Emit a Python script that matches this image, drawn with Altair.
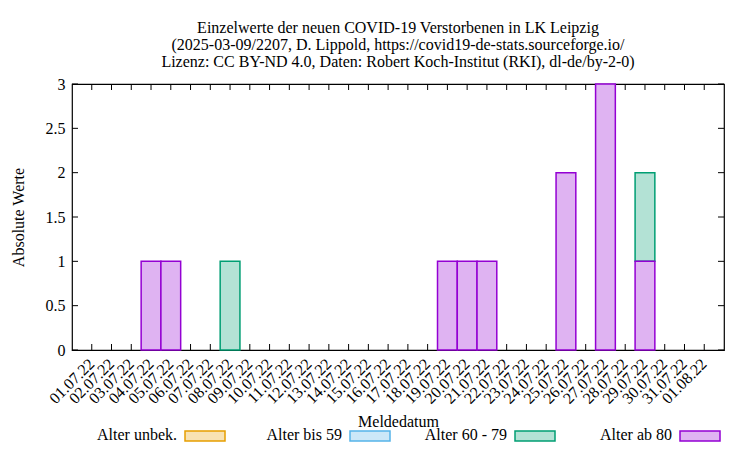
import altair as alt
import pandas as pd

dates = ["01.07.22", "02.07.22", "03.07.22", "04.07.22", "05.07.22", "06.07.22",
         "07.07.22", "08.07.22", "09.07.22", "10.07.22", "11.07.22", "12.07.22",
         "13.07.22", "14.07.22", "15.07.22", "16.07.22", "17.07.22", "18.07.22",
         "19.07.22", "20.07.22", "21.07.22", "22.07.22", "23.07.22", "24.07.22",
         "25.07.22", "26.07.22", "27.07.22", "28.07.22", "29.07.22", "30.07.22",
         "31.07.22", "01.08.22"]

series = ["Alter unbek.", "Alter bis 59", "Alter 60 - 79", "Alter ab 80"]

alter_unbek = [0, 0, 0, 0, 0, 0, 0, 0, 0, 0, 0, 0, 0, 0, 0, 0,
               0, 0, 0, 0, 0, 0, 0, 0, 0, 0, 0, 0, 0, 0, 0, 0]
alter_bis59 = [0, 0, 0, 0, 0, 0, 0, 0, 0, 0, 0, 0, 0, 0, 0, 0,
               0, 0, 0, 0, 0, 0, 0, 0, 0, 0, 0, 0, 0, 0, 0, 0]
alter_60_79 = [0, 0, 0, 0, 0, 0, 0, 1, 0, 0, 0, 0, 0, 0, 0, 0,
               0, 0, 0, 0, 0, 0, 0, 0, 0, 0, 0, 0, 1, 0, 0, 0]
alter_ab80 = [0, 0, 0, 1, 1, 0, 0, 0, 0, 0, 0, 0, 0, 0, 0, 0,
              0, 0, 1, 1, 1, 0, 0, 0, 2, 0, 3, 0, 1, 0, 0, 0]

stack_rank = [3, 2, 1, 0]  # Alter ab 80 at the bottom
stroke_colors = ["#e69f00", "#56b4e9", "#009e73", "#9400d3"]
fill_colors = ["#f8e2b3", "#cce8f8", "#b3e2d5", "#dfb3f2"]

y_ticks = [0, 0.5, 1, 1.5, 2, 2.5, 3]

title_lines = [
    "Einzelwerte der neuen COVID-19 Verstorbenen in LK Leipzig",
    "(2025-03-09/2207, D. Lippold, https://covid19-de-stats.sourceforge.io/",
    "Lizenz: CC BY-ND 4.0, Daten: Robert Koch-Institut (RKI), dl-de/by-2-0)",
]

FONT = "Liberation Serif"
FS = 16
W, H = 652, 266

rows = []
for s, vals, rk in zip(series, [alter_unbek, alter_bis59, alter_60_79, alter_ab80], stack_rank):
    for d, v in zip(dates, vals):
        if v > 0:
            rows.append({"date": d, "series": s, "value": v, "rank": rk})
df = pd.DataFrame(rows)
df_dates = pd.DataFrame({"date": dates})
df_y = pd.DataFrame({"value": y_ticks})
df_leg = pd.DataFrame({"series": series})

xscale = alt.Scale(type="band", domain=dates, paddingInner=0, paddingOuter=0.5)
yscale = alt.Scale(domain=[0, 3], nice=False, zero=True)
fill_scale = alt.Scale(domain=series, range=fill_colors)
stroke_scale = alt.Scale(domain=series, range=stroke_colors)

x_axis = alt.Axis(
    labelAngle=-45, labelAlign="right", labelBaseline="middle",
    labelFont=FONT, labelFontSize=FS, labelColor="black", labelPadding=11,
    ticks=False, domain=False, grid=False, labelOverlap=False,
    title="Meldedatum", titleFont=FONT, titleFontSize=FS, titleFontWeight="normal",
    titleColor="black", titleY=76, titleBaseline="alphabetic",
)
y_axis = alt.Axis(
    values=y_ticks, format="~g", labelFont=FONT, labelFontSize=FS, labelColor="black",
    labelPadding=7, ticks=False, domain=False, grid=False,
    title="Absolute Werte", titleFont=FONT, titleFontSize=FS, titleFontWeight="normal",
    titleColor="black", titleX=-49, titleY=H / 2, titleAngle=270,
    titleAlign="center", titleBaseline="alphabetic",
)

bars = alt.Chart(df).mark_bar(strokeWidth=1.5).encode(
    x=alt.X("date:N", scale=xscale, axis=x_axis, sort=dates),
    y=alt.Y("value:Q", stack="zero", scale=yscale, axis=y_axis),
    fill=alt.Fill("series:N", scale=fill_scale, legend=None),
    stroke=alt.Stroke("series:N", scale=stroke_scale, legend=None),
    order=alt.Order("rank:Q"),
)

xt_bottom = alt.Chart(df_dates).mark_rule(color="black", strokeWidth=1).encode(
    x=alt.X("date:N", scale=xscale, bandPosition=0.5, sort=dates),
    y=alt.value(H), y2=alt.value(H - 6),
)
xt_top = alt.Chart(df_dates).mark_rule(color="black", strokeWidth=1).encode(
    x=alt.X("date:N", scale=xscale, bandPosition=0.5, sort=dates),
    y=alt.value(0), y2=alt.value(6),
)
yt_left = alt.Chart(df_y).mark_rule(color="black", strokeWidth=1).encode(
    y=alt.Y("value:Q", scale=yscale),
    x=alt.value(0), x2=alt.value(6),
)
yt_right = alt.Chart(df_y).mark_rule(color="black", strokeWidth=1).encode(
    y=alt.Y("value:Q", scale=yscale),
    x=alt.value(W - 6), x2=alt.value(W),
)

main = alt.layer(xt_bottom, xt_top, yt_left, yt_right, bars)

leg_x = alt.Scale(type="point", domain=series, range=[133, 628], padding=0)
leg_sym = alt.Chart(df_leg).mark_point(
    shape="M-1,-0.25H1V0.25H-1Z", size=1600, filled=True, strokeWidth=1.5, opacity=1
).encode(
    x=alt.X("series:N", scale=leg_x, axis=None, sort=series),
    y=alt.value(352),
    fill=alt.Fill("series:N", scale=fill_scale, legend=None),
    stroke=alt.Stroke("series:N", scale=stroke_scale, legend=None),
)
leg_txt = alt.Chart(df_leg).mark_text(
    align="right", baseline="alphabetic", dx=-28, font=FONT, fontSize=FS, color="black"
).encode(
    x=alt.X("series:N", scale=leg_x, axis=None, sort=series),
    y=alt.value(356),
    text="series:N",
)

chart = alt.layer(main, leg_sym, leg_txt).resolve_scale(x="independent").properties(
    width=W, height=H,
    autosize=alt.AutoSizeParams(type="none"),
    padding={"left": 64, "top": 76, "right": 18, "bottom": 92},
    title=alt.TitleParams(
        text=title_lines, font=FONT, fontSize=FS, fontWeight="normal", color="black",
        lineHeight=17, anchor="middle", offset=6,
    ),
    background="white",
).configure_view(stroke="black", strokeWidth=1.2)

chart.save("out.html", embed_options={"renderer": "svg", "actions": False})
